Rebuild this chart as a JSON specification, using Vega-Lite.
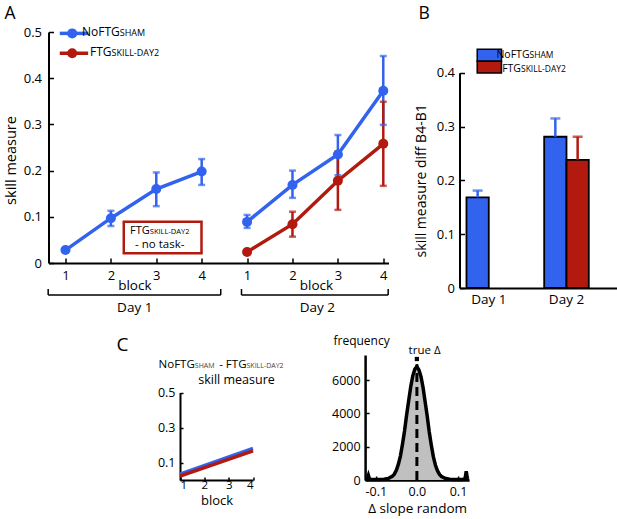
{
  "$schema": "https://vega.github.io/schema/vega-lite/v6.json",
  "padding": {"left": 2.5, "top": 5, "right": 0, "bottom": 8},
  "background": "white",
  "bounds": "flush",
  "spacing": 323,
  "config": {
    "font": "Open Sans",
    "view": {"stroke": null},
    "axis": {"grid": false, "domainColor": "black", "domainWidth": 2, "tickColor": "black", "tickWidth": 1.5, "labelColor": "black", "titleColor": "black", "titleFontWeight": "normal", "labelFont": "Open Sans", "titleFont": "Open Sans"},
    "text": {"color": "black", "font": "Open Sans"}
  },
  "datasets": {
    "skill": [
      {"series": "NoFTG", "day": "Day 1", "pos": 1, "value": 0.028},
      {"series": "NoFTG", "day": "Day 1", "pos": 2, "value": 0.097, "lo": 0.080, "hi": 0.113},
      {"series": "NoFTG", "day": "Day 1", "pos": 3, "value": 0.160, "lo": 0.123, "hi": 0.196},
      {"series": "NoFTG", "day": "Day 1", "pos": 4, "value": 0.198, "lo": 0.169, "hi": 0.225},
      {"series": "NoFTG", "day": "Day 2", "pos": 5, "value": 0.089, "lo": 0.076, "hi": 0.104},
      {"series": "NoFTG", "day": "Day 2", "pos": 6, "value": 0.169, "lo": 0.141, "hi": 0.200},
      {"series": "NoFTG", "day": "Day 2", "pos": 7, "value": 0.235, "lo": 0.190, "hi": 0.277},
      {"series": "NoFTG", "day": "Day 2", "pos": 8, "value": 0.373, "lo": 0.299, "hi": 0.448},
      {"series": "FTG", "day": "Day 2", "pos": 5, "value": 0.024},
      {"series": "FTG", "day": "Day 2", "pos": 6, "value": 0.084, "lo": 0.057, "hi": 0.111},
      {"series": "FTG", "day": "Day 2", "pos": 7, "value": 0.178, "lo": 0.115, "hi": 0.241},
      {"series": "FTG", "day": "Day 2", "pos": 8, "value": 0.258, "lo": 0.167, "hi": 0.349}
    ],
    "legendA": [
      {"series": "NoFTG", "x": 0.874, "x2": 1.5, "xm": 1.148, "y": 0.497},
      {"series": "FTG", "x": 0.874, "x2": 1.5, "xm": 1.148, "y": 0.454}
    ],
    "boxA": [{"x": 2.284, "x2": 3.996, "y": 0.0894, "y2": 0.021}],
    "bracketA": [
      {"x": 0.619, "y": -0.0693, "x2": 4.42, "y2": -0.0693},
      {"x": 0.619, "y": -0.0693, "x2": 0.619, "y2": -0.0563},
      {"x": 4.42, "y": -0.0693, "x2": 4.42, "y2": -0.0563},
      {"x": 4.877, "y": -0.0693, "x2": 8.108, "y2": -0.0693},
      {"x": 4.877, "y": -0.0693, "x2": 4.877, "y2": -0.0563},
      {"x": 8.108, "y": -0.0693, "x2": 8.108, "y2": -0.0563}
    ],
    "textA": [
      {"role": "panel", "text": "A", "x": -0.344, "y": 0.528},
      {"role": "main", "text": "NoFTG", "x": 2.196, "y": 0.492},
      {"role": "sub", "text": "SHAM", "x": 2.196, "y": 0.492},
      {"role": "main", "text": "FTG", "x": 2.013, "y": 0.448},
      {"role": "sub", "text": "SKILL-DAY2", "x": 2.013, "y": 0.448},
      {"role": "boxmain", "text": "FTG", "x": 2.857, "y": 0.0635},
      {"role": "boxsub", "text": "SKILL-DAY2", "x": 2.857, "y": 0.0635},
      {"role": "boxnote", "text": "- no task-", "x": 3.077, "y": 0.0318},
      {"role": "axis", "text": "block", "x": 2.527, "y": -0.0584},
      {"role": "axis", "text": "block", "x": 6.529, "y": -0.0584},
      {"role": "axis", "text": "Day 1", "x": 2.526, "y": -0.106},
      {"role": "axis", "text": "Day 2", "x": 6.546, "y": -0.106}
    ],
    "diff": [
      {"day": "Day 1", "series": "NoFTG", "value": 0.1685, "hi": 0.181},
      {"day": "Day 2", "series": "NoFTG", "value": 0.281, "hi": 0.315},
      {"day": "Day 2", "series": "FTG", "value": 0.238, "hi": 0.281}
    ],
    "legendB": [
      {"series": "NoFTG", "x": 0.851, "x2": 1.163, "y": 0.4434, "y2": 0.4211},
      {"series": "FTG", "x": 0.851, "x2": 1.163, "y": 0.4211, "y2": 0.3994}
    ],
    "textB": [
      {"role": "panel", "text": "B", "x": 0.095, "y": 0.4997},
      {"role": "main", "text": "NoFTG", "x": 1.524, "y": 0.4282},
      {"role": "sub", "text": "SHAM", "x": 1.524, "y": 0.4282},
      {"role": "main", "text": "FTG", "x": 1.414, "y": 0.4012},
      {"role": "sub", "text": "SKILL-DAY2", "x": 1.414, "y": 0.4012}
    ],
    "slope": [
      {"series": "NoFTG", "block": 1, "value": 0.033},
      {"series": "NoFTG", "block": 4, "value": 0.18},
      {"series": "FTG", "block": 1, "value": 0.022},
      {"series": "FTG", "block": 4, "value": 0.166}
    ],
    "textC": [
      {"role": "panel", "text": "C", "x": -1.61, "y": 0.737},
      {"role": "main", "text": "NoFTG", "x": 1.609, "y": 0.638},
      {"role": "sub", "text": "SHAM", "x": 1.609, "y": 0.638},
      {"role": "main", "text": "- FTG", "x": 3.733, "y": 0.638},
      {"role": "sub", "text": "SKILL-DAY2", "x": 3.733, "y": 0.638},
      {"role": "axis", "text": "skill measure", "x": 3.322, "y": 0.549}
    ],
    "perm": [
      {"slope": -0.126, "count": 50}, {"slope": -0.121, "count": 50}, {"slope": -0.118, "count": 280}, {"slope": -0.115, "count": 40},
      {"slope": -0.11, "count": 30}, {"slope": -0.1, "count": 25}, {"slope": -0.09, "count": 30}, {"slope": -0.08, "count": 45},
      {"slope": -0.07, "count": 90}, {"slope": -0.06, "count": 220}, {"slope": -0.055, "count": 350}, {"slope": -0.05, "count": 580},
      {"slope": -0.045, "count": 950}, {"slope": -0.04, "count": 1450}, {"slope": -0.035, "count": 2150}, {"slope": -0.03, "count": 2950},
      {"slope": -0.025, "count": 3900}, {"slope": -0.02, "count": 4750}, {"slope": -0.015, "count": 5600}, {"slope": -0.01, "count": 6250},
      {"slope": -0.005, "count": 6650}, {"slope": 0, "count": 6800}, {"slope": 0.005, "count": 6600}, {"slope": 0.01, "count": 6200},
      {"slope": 0.015, "count": 5550}, {"slope": 0.02, "count": 4700}, {"slope": 0.025, "count": 3850}, {"slope": 0.03, "count": 2900},
      {"slope": 0.035, "count": 2100}, {"slope": 0.04, "count": 1400}, {"slope": 0.045, "count": 900}, {"slope": 0.05, "count": 560},
      {"slope": 0.055, "count": 340}, {"slope": 0.06, "count": 210}, {"slope": 0.07, "count": 90}, {"slope": 0.08, "count": 45},
      {"slope": 0.09, "count": 30}, {"slope": 0.1, "count": 25}, {"slope": 0.11, "count": 35}, {"slope": 0.117, "count": 60},
      {"slope": 0.12, "count": 520}, {"slope": 0.123, "count": 60}, {"slope": 0.127, "count": 50}
    ],
    "textD": [
      {"role": "axis", "text": "frequency", "x": -0.203, "y": 8100},
      {"role": "note", "text": "true Δ", "x": -0.0202, "y": 7560}
    ]
  },
  "vconcat": [
    {
      "bounds": "flush",
      "spacing": 71,
      "hconcat": [
        {
          "width": 340,
          "height": 231,
          "layer": [
            {
              "data": {"name": "skill"},
              "transform": [{"filter": "isValid(datum.lo)"}],
              "mark": {"type": "rule", "strokeWidth": 2.5},
              "encoding": {
                "x": {"field": "pos", "type": "quantitative", "scale": {"domain": [0.626, 8.115], "nice": false, "zero": false},
                  "axis": {"values": [1, 2, 3, 4, 5, 6, 7, 8], "labelExpr": "'' + (datum.value > 4 ? datum.value - 4 : datum.value)", "title": null, "tickSize": -5, "labelPadding": 11, "labelFontSize": 13}},
                "y": {"field": "lo", "type": "quantitative", "scale": {"domain": [0, 0.5], "nice": false},
                  "axis": {"values": [0, 0.1, 0.2, 0.3, 0.4, 0.5], "labelExpr": "datum.value == 0 ? '0' : format(datum.value, '.1f')", "title": "skill measure", "titleFontSize": 14.5, "titleY": 128, "titlePadding": 5, "tickSize": -5, "labelPadding": 12, "labelFontSize": 13}},
                "y2": {"field": "hi"},
                "color": {"field": "series", "type": "nominal", "scale": {"domain": ["NoFTG", "FTG"], "range": ["#3263ee", "#b2190f"]}, "legend": null}
              }
            },
            {
              "data": {"name": "skill"},
              "transform": [{"filter": "isValid(datum.lo)"}],
              "mark": {"type": "tick", "orient": "horizontal", "size": 7, "thickness": 2.5},
              "encoding": {
                "x": {"field": "pos", "type": "quantitative"},
                "y": {"field": "lo", "type": "quantitative"},
                "color": {"field": "series", "type": "nominal", "legend": null}
              }
            },
            {
              "data": {"name": "skill"},
              "transform": [{"filter": "isValid(datum.lo)"}],
              "mark": {"type": "tick", "orient": "horizontal", "size": 7, "thickness": 2.5},
              "encoding": {
                "x": {"field": "pos", "type": "quantitative"},
                "y": {"field": "hi", "type": "quantitative"},
                "color": {"field": "series", "type": "nominal", "legend": null}
              }
            },
            {
              "data": {"name": "skill"},
              "mark": {"type": "line", "strokeWidth": 3.5},
              "encoding": {
                "x": {"field": "pos", "type": "quantitative"},
                "y": {"field": "value", "type": "quantitative"},
                "color": {"field": "series", "type": "nominal", "legend": null},
                "detail": {"field": "day"}
              }
            },
            {
              "data": {"name": "skill"},
              "mark": {"type": "point", "filled": true, "opacity": 1, "size": 100},
              "encoding": {
                "x": {"field": "pos", "type": "quantitative"},
                "y": {"field": "value", "type": "quantitative"},
                "color": {"field": "series", "type": "nominal", "legend": null}
              }
            },
            {
              "data": {"name": "legendA"},
              "mark": {"type": "rule", "strokeWidth": 3.5},
              "encoding": {
                "x": {"field": "x", "type": "quantitative"},
                "x2": {"field": "x2"},
                "y": {"field": "y", "type": "quantitative"},
                "color": {"field": "series", "type": "nominal", "legend": null}
              }
            },
            {
              "data": {"name": "legendA"},
              "mark": {"type": "point", "filled": true, "opacity": 1, "size": 100},
              "encoding": {
                "x": {"field": "xm", "type": "quantitative"},
                "y": {"field": "y", "type": "quantitative"},
                "color": {"field": "series", "type": "nominal", "legend": null}
              }
            },
            {
              "data": {"name": "boxA"},
              "mark": {"type": "rect", "filled": false, "color": "#b2190f", "strokeWidth": 2.5},
              "encoding": {
                "x": {"field": "x", "type": "quantitative"},
                "x2": {"field": "x2"},
                "y": {"field": "y", "type": "quantitative"},
                "y2": {"field": "y2"}
              }
            },
            {
              "data": {"name": "bracketA"},
              "mark": {"type": "rule", "strokeWidth": 1.5, "color": "black"},
              "encoding": {
                "x": {"field": "x", "type": "quantitative"},
                "x2": {"field": "x2"},
                "y": {"field": "y", "type": "quantitative"},
                "y2": {"field": "y2"}
              }
            },
            {
              "data": {"name": "textA"},
              "transform": [{"filter": "datum.role == 'panel'"}],
              "mark": {"type": "text", "align": "left", "baseline": "alphabetic", "fontSize": 17.5},
              "encoding": {"x": {"field": "x", "type": "quantitative"}, "y": {"field": "y", "type": "quantitative"}, "text": {"field": "text"}}
            },
            {
              "data": {"name": "textA"},
              "transform": [{"filter": "datum.role == 'main'"}],
              "mark": {"type": "text", "align": "right", "baseline": "alphabetic", "fontSize": 12},
              "encoding": {"x": {"field": "x", "type": "quantitative"}, "y": {"field": "y", "type": "quantitative"}, "text": {"field": "text"}}
            },
            {
              "data": {"name": "textA"},
              "transform": [{"filter": "datum.role == 'sub'"}],
              "mark": {"type": "text", "align": "left", "baseline": "alphabetic", "fontSize": 9},
              "encoding": {"x": {"field": "x", "type": "quantitative"}, "y": {"field": "y", "type": "quantitative"}, "text": {"field": "text"}}
            },
            {
              "data": {"name": "textA"},
              "transform": [{"filter": "datum.role == 'boxmain'"}],
              "mark": {"type": "text", "align": "right", "baseline": "alphabetic", "fontSize": 11},
              "encoding": {"x": {"field": "x", "type": "quantitative"}, "y": {"field": "y", "type": "quantitative"}, "text": {"field": "text"}}
            },
            {
              "data": {"name": "textA"},
              "transform": [{"filter": "datum.role == 'boxsub'"}],
              "mark": {"type": "text", "align": "left", "baseline": "alphabetic", "fontSize": 7.5},
              "encoding": {"x": {"field": "x", "type": "quantitative"}, "y": {"field": "y", "type": "quantitative"}, "text": {"field": "text"}}
            },
            {
              "data": {"name": "textA"},
              "transform": [{"filter": "datum.role == 'boxnote'"}],
              "mark": {"type": "text", "align": "center", "baseline": "alphabetic", "fontSize": 11.5},
              "encoding": {"x": {"field": "x", "type": "quantitative"}, "y": {"field": "y", "type": "quantitative"}, "text": {"field": "text"}}
            },
            {
              "data": {"name": "textA"},
              "transform": [{"filter": "datum.role == 'axis'"}],
              "mark": {"type": "text", "align": "center", "baseline": "alphabetic", "fontSize": 13.5},
              "encoding": {"x": {"field": "x", "type": "quantitative"}, "y": {"field": "y", "type": "quantitative"}, "text": {"field": "text"}}
            }
          ]
        },
        {
          "width": 159,
          "height": 256,
          "resolve": {"scale": {"x": "independent"}, "axis": {"x": "independent"}},
          "layer": [
            {
              "data": {"name": "diff"},
              "layer": [
                {
                  "mark": {"type": "bar", "stroke": "black", "strokeWidth": 1.8},
                  "encoding": {
                    "x": {"field": "day", "type": "nominal", "scale": {"domain": ["Day 1", "Day 2"], "paddingInner": 0.426, "paddingOuter": 0.236, "align": 0.19},
                      "axis": {"title": null, "labelAngle": 0, "ticks": false, "labelPadding": 4, "labelFontSize": 13.5}},
                    "xOffset": {"field": "series", "type": "nominal", "scale": {"domain": ["NoFTG", "FTG"], "paddingInner": 0, "paddingOuter": 0}},
                    "y": {"field": "value", "type": "quantitative", "scale": {"domain": [0, 0.4], "range": [256, 40.7], "nice": false},
                      "axis": {"values": [0, 0.1, 0.2, 0.3, 0.4], "labelExpr": "datum.value == 0 ? '0' : format(datum.value, '.1f')", "title": "skill measure diff B4-B1", "titleFontSize": 14, "titlePadding": 8, "tickSize": -5, "labelPadding": 10, "labelFontSize": 13}},
                    "color": {"field": "series", "type": "nominal", "scale": {"domain": ["NoFTG", "FTG"], "range": ["#2f5cf5", "#b01a0e"]}, "legend": null}
                  }
                },
                {
                  "mark": {"type": "rule", "strokeWidth": 2.5},
                  "encoding": {
                    "x": {"field": "day", "type": "nominal"},
                    "xOffset": {"field": "series", "type": "nominal"},
                    "y": {"field": "value", "type": "quantitative"},
                    "y2": {"field": "hi"},
                    "color": {"field": "series", "type": "nominal", "legend": null}
                  }
                },
                {
                  "mark": {"type": "tick", "orient": "horizontal", "size": 10, "thickness": 2.5},
                  "encoding": {
                    "x": {"field": "day", "type": "nominal"},
                    "xOffset": {"field": "series", "type": "nominal"},
                    "y": {"field": "hi", "type": "quantitative"},
                    "color": {"field": "series", "type": "nominal", "legend": null}
                  }
                }
              ]
            },
            {
              "layer": [
                {
                  "data": {"name": "legendB"},
                  "mark": {"type": "rect", "stroke": "black", "strokeWidth": 1.5},
                  "encoding": {
                    "x": {"field": "x", "type": "quantitative", "scale": {"domain": [0.623, 2.669], "nice": false, "zero": false}, "axis": null},
                    "x2": {"field": "x2"},
                    "y": {"field": "y", "type": "quantitative"},
                    "y2": {"field": "y2"},
                    "color": {"field": "series", "type": "nominal", "legend": null}
                  }
                },
                {
                  "data": {"name": "textB"},
                  "transform": [{"filter": "datum.role == 'panel'"}],
                  "mark": {"type": "text", "align": "left", "baseline": "alphabetic", "fontSize": 17.5},
                  "encoding": {"x": {"field": "x", "type": "quantitative", "axis": null}, "y": {"field": "y", "type": "quantitative"}, "text": {"field": "text"}}
                },
                {
                  "data": {"name": "textB"},
                  "transform": [{"filter": "datum.role == 'main'"}],
                  "mark": {"type": "text", "align": "right", "baseline": "alphabetic", "fontSize": 10.5},
                  "encoding": {"x": {"field": "x", "type": "quantitative", "axis": null}, "y": {"field": "y", "type": "quantitative"}, "text": {"field": "text"}}
                },
                {
                  "data": {"name": "textB"},
                  "transform": [{"filter": "datum.role == 'sub'"}],
                  "mark": {"type": "text", "align": "left", "baseline": "alphabetic", "fontSize": 8.5},
                  "encoding": {"x": {"field": "x", "type": "quantitative", "axis": null}, "y": {"field": "y", "type": "quantitative"}, "text": {"field": "text"}}
                }
              ]
            }
          ]
        }
      ]
    },
    {
      "bounds": "flush",
      "spacing": 111.6,
      "hconcat": [
        {
          "width": 205,
          "height": 125,
          "layer": [
            {
              "data": {"name": "slope"},
              "mark": {"type": "line", "strokeWidth": 3.5},
              "encoding": {
                "x": {"field": "block", "type": "quantitative", "scale": {"domain": [1, 4], "range": [131.5, 204.5], "nice": false, "zero": false},
                  "axis": {"values": [1, 2, 3, 4], "format": "d", "labelOverlap": false, "title": "block", "titleFontSize": 13, "titlePadding": 4, "labelFontSize": 11.5, "tickSize": -3, "labelPadding": 2}},
                "y": {"field": "value", "type": "quantitative", "scale": {"domain": [0, 0.5], "range": [125, 37.5], "nice": false},
                  "axis": {"offset": -131.5, "values": [0.1, 0.2, 0.3, 0.4, 0.5], "labelExpr": "datum.value == 0.2 || datum.value == 0.4 ? '' : format(datum.value, '.1f')", "title": null, "tickSize": -3, "labelPadding": 8, "labelFontSize": 12.5}},
                "color": {"field": "series", "type": "nominal", "scale": {"domain": ["NoFTG", "FTG"], "range": ["#3a48e0", "#b2190f"]}, "legend": null}
              }
            },
            {
              "data": {"name": "textC"},
              "transform": [{"filter": "datum.role == 'panel'"}],
              "mark": {"type": "text", "align": "left", "baseline": "alphabetic", "fontSize": 19},
              "encoding": {"x": {"field": "x", "type": "quantitative"}, "y": {"field": "y", "type": "quantitative"}, "text": {"field": "text"}}
            },
            {
              "data": {"name": "textC"},
              "transform": [{"filter": "datum.role == 'main'"}],
              "mark": {"type": "text", "align": "right", "baseline": "alphabetic", "fontSize": 11.5},
              "encoding": {"x": {"field": "x", "type": "quantitative"}, "y": {"field": "y", "type": "quantitative"}, "text": {"field": "text"}}
            },
            {
              "data": {"name": "textC"},
              "transform": [{"filter": "datum.role == 'sub'"}],
              "mark": {"type": "text", "align": "left", "baseline": "alphabetic", "fontSize": 7, "color": "#444444"},
              "encoding": {"x": {"field": "x", "type": "quantitative"}, "y": {"field": "y", "type": "quantitative"}, "text": {"field": "text"}}
            },
            {
              "data": {"name": "textC"},
              "transform": [{"filter": "datum.role == 'axis'"}],
              "mark": {"type": "text", "align": "center", "baseline": "alphabetic", "fontSize": 12.5},
              "encoding": {"x": {"field": "x", "type": "quantitative"}, "y": {"field": "y", "type": "quantitative"}, "text": {"field": "text"}}
            }
          ]
        },
        {
          "width": 104,
          "height": 125,
          "layer": [
            {
              "data": {"name": "perm"},
              "mark": {"type": "area", "color": "#c0c0c0", "interpolate": "linear"},
              "encoding": {
                "x": {"field": "slope", "type": "quantitative", "scale": {"domain": [-0.126, 0.127], "nice": false, "zero": false},
                  "axis": {"values": [-0.1, 0, 0.1], "labelExpr": "replace(datum.label, '−', '-')", "title": "Δ slope random", "titleFontSize": 13.5, "titlePadding": 4, "tickSize": -4, "labelPadding": 9, "labelFontSize": 12.5, "domainWidth": 2.5}},
                "y": {"field": "count", "type": "quantitative", "scale": {"domain": [0, 7500], "nice": false},
                  "axis": {"values": [0, 2000, 4000, 6000], "format": "d", "title": null, "tickSize": -4, "labelPadding": 9, "labelFontSize": 12.5, "domainWidth": 2.5}}
              }
            },
            {
              "data": {"name": "perm"},
              "mark": {"type": "line", "color": "black", "strokeWidth": 3.5, "interpolate": "linear"},
              "encoding": {
                "x": {"field": "slope", "type": "quantitative"},
                "y": {"field": "count", "type": "quantitative"}
              }
            },
            {
              "data": {"values": [{}]},
              "mark": {"type": "rule", "strokeWidth": 3, "strokeDash": [9, 5], "color": "black"},
              "encoding": {"x": {"datum": 0, "type": "quantitative"}, "y": {"datum": 0, "type": "quantitative"}, "y2": {"datum": 6950}}
            },
            {
              "data": {"values": [{}]},
              "mark": {"type": "point", "shape": "square", "filled": true, "size": 18, "color": "black", "opacity": 1},
              "encoding": {"x": {"datum": 0, "type": "quantitative"}, "y": {"datum": 7260, "type": "quantitative"}}
            },
            {
              "data": {"name": "textD"},
              "transform": [{"filter": "datum.role == 'axis'"}],
              "mark": {"type": "text", "align": "left", "baseline": "alphabetic", "fontSize": 12},
              "encoding": {"x": {"field": "x", "type": "quantitative"}, "y": {"field": "y", "type": "quantitative"}, "text": {"field": "text"}}
            },
            {
              "data": {"name": "textD"},
              "transform": [{"filter": "datum.role == 'note'"}],
              "mark": {"type": "text", "align": "left", "baseline": "alphabetic", "fontSize": 11.5},
              "encoding": {"x": {"field": "x", "type": "quantitative"}, "y": {"field": "y", "type": "quantitative"}, "text": {"field": "text"}}
            }
          ]
        }
      ]
    }
  ]
}
